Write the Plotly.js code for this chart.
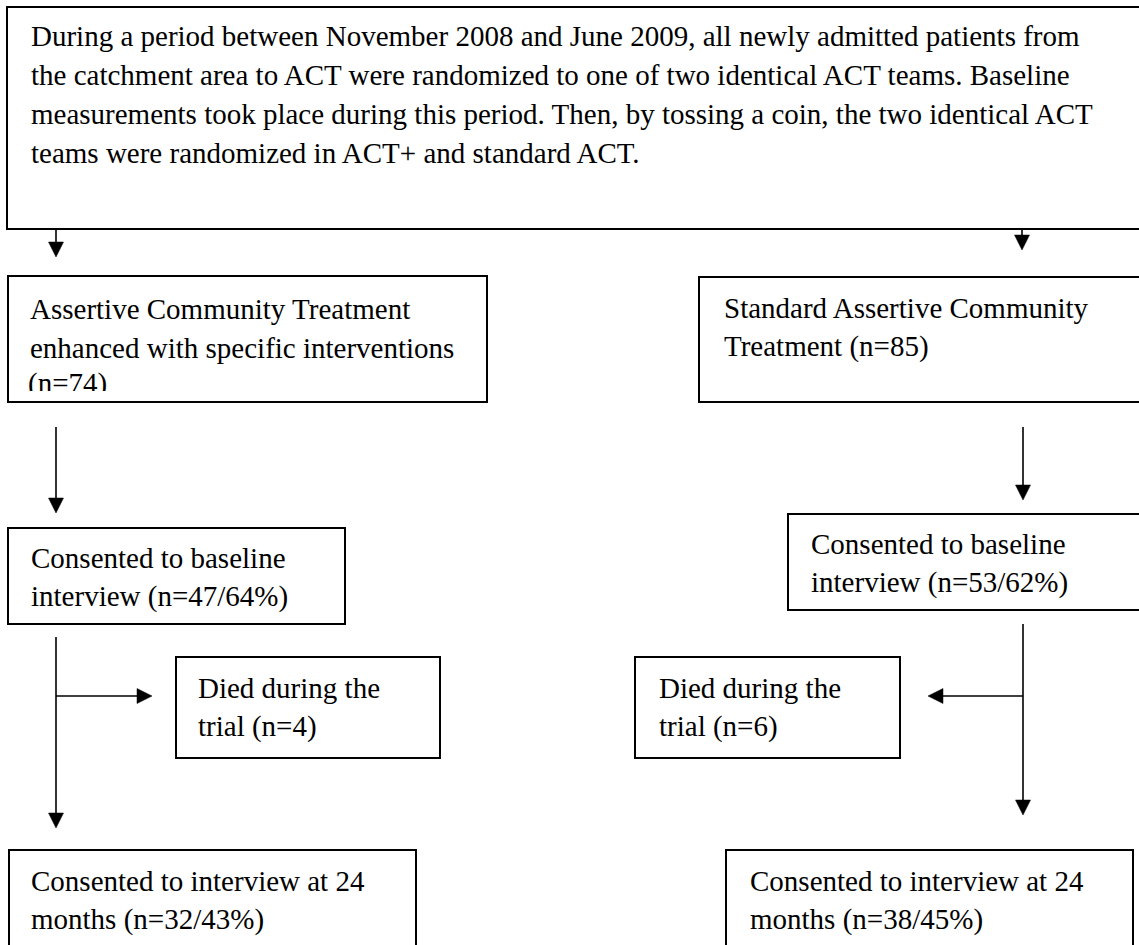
<!DOCTYPE html>
<html>
<head>
<meta charset="utf-8">
<script src="https://cdn.plot.ly/plotly-3.0.1.min.js"></script>
<style>html,body{margin:0;padding:0;background:#fff;}#chart{width:1139px;height:945px;}</style>
</head>
<body>
<div id="chart"></div>
<script>
// ---- data ----
const introLines = [
  "During a period between November 2008 and June 2009, all newly admitted patients from",
  "the catchment area to ACT were randomized to one of two identical ACT teams. Baseline",
  "measurements took place during this period. Then, by tossing a coin, the two identical ACT",
  "teams were randomized in ACT+ and standard ACT."
];
const armNames = ["Assertive Community Treatment enhanced with specific interventions", "Standard Assertive Community Treatment"];
const randomizedN = [74, 85];
const baselineN = [47, 53];
const baselinePct = [64, 62];
const diedN = [4, 6];
const followN = [32, 38];
const followPct = [43, 45];

// ---- layout helpers ----
const FONT = {family: "Liberation Serif, Times New Roman, serif", size: 29, color: "#000"};
const shapes = [];
const annotations = [];
const LH = 38.5;

function box(x0, y0, x1, y1) {
  shapes.push({type: "rect", xref: "x", yref: "y", x0, y0, x1, y1,
    line: {color: "#000", width: 2}, fillcolor: "rgba(0,0,0,0)", layer: "above"});
}
function lines(x, y0, arr, step) {
  arr.forEach((t, i) => annotations.push({xref: "x", yref: "y", x: x, y: y0 + i * (step || LH),
    text: t, showarrow: false, xanchor: "left", yanchor: "middle", align: "left", font: FONT}));
}
function seg(x0, y0, x1, y1) {
  shapes.push({type: "line", xref: "x", yref: "y", x0, y0, x1, y1, line: {color: "#000", width: 1.6}, layer: "above"});
}
const HL = 15, HW = 7.5;
function arrowDown(x, y0, tip) {
  seg(x, y0, x, tip - HL + 1);
  shapes.push({type: "path", xref: "x", yref: "y",
    path: `M ${x - HW} ${tip - HL} L ${x + HW} ${tip - HL} L ${x} ${tip} Z`,
    fillcolor: "#000", line: {color: "#000", width: 0.5}, layer: "above"});
}
function arrowH(y, x0, tip) {
  const d = tip > x0 ? 1 : -1;
  seg(x0, y, tip - d * (HL - 1), y);
  shapes.push({type: "path", xref: "x", yref: "y",
    path: `M ${tip - d * HL} ${y - HW} L ${tip - d * HL} ${y + HW} L ${tip} ${y} Z`,
    fillcolor: "#000", line: {color: "#000", width: 0.5}, layer: "above"});
}

// clipped last line in left arm box: white mask then border
shapes.push({type: "rect", xref: "x", yref: "y", x0: 9, y0: 391, x1: 486, y1: 401,
  fillcolor: "#fff", line: {width: 0}, layer: "above"});

// boxes
box(7, 7, 1160, 229);
box(8, 276, 487, 402);
box(699, 277, 1160, 402);
box(8, 528, 345, 624);
box(788, 514, 1160, 610);
box(176, 657, 440, 758);
box(635, 657, 900, 758);
box(9, 850, 416, 990);
box(726, 850, 1133, 990);

// arrows
arrowDown(56, 229, 257);
arrowDown(1022, 229, 250);
arrowDown(56, 427, 513);
arrowDown(1023, 427, 500);
arrowDown(56, 637, 828);
arrowDown(1023, 624, 815);
arrowH(696, 56, 152);
arrowH(696, 1023, 928);

// texts
lines(29, 36, introLines, 39);
const a = armNames[0].split(" ");
lines(28, 309, [a.slice(0, 3).join(" "), a.slice(3).join(" ")]);
const b = armNames[1].split(" ");
lines(722, 308, [b.slice(0, 3).join(" "), b.slice(3).join(" ") + ` (n=${randomizedN[1]})`]);
lines(29, 558, ["Consented to baseline", `interview (n=${baselineN[0]}/${baselinePct[0]}%)`]);
lines(809, 544, ["Consented to baseline", `interview (n=${baselineN[1]}/${baselinePct[1]}%)`]);
lines(196, 688, ["Died during the", `trial (n=${diedN[0]})`]);
lines(657, 688, ["Died during the", `trial (n=${diedN[1]})`]);
lines(29, 881, ["Consented to interview at 24", `months (n=${followN[0]}/${followPct[0]}%)`]);
lines(748, 881, ["Consented to interview at 24", `months (n=${followN[1]}/${followPct[1]}%)`]);

const traces = [{
  type: "scatter", mode: "text", x: [28], y: [309 + 2 * LH],
  text: [`(n=${randomizedN[0]})`], textposition: "middle right",
  textfont: FONT, hoverinfo: "skip", showlegend: false
}];

const layout = {
  width: 1139, height: 945,
  margin: {l: 0, r: 0, t: 0, b: 0, pad: 0},
  paper_bgcolor: "#fff", plot_bgcolor: "#fff",
  xaxis: {range: [0, 1139], visible: false, fixedrange: true},
  yaxis: {range: [945, 0], visible: false, fixedrange: true},
  shapes, annotations, showlegend: false
};
Plotly.newPlot("chart", traces, layout, {staticPlot: true, displayModeBar: false});
</script>
</body>
</html>
